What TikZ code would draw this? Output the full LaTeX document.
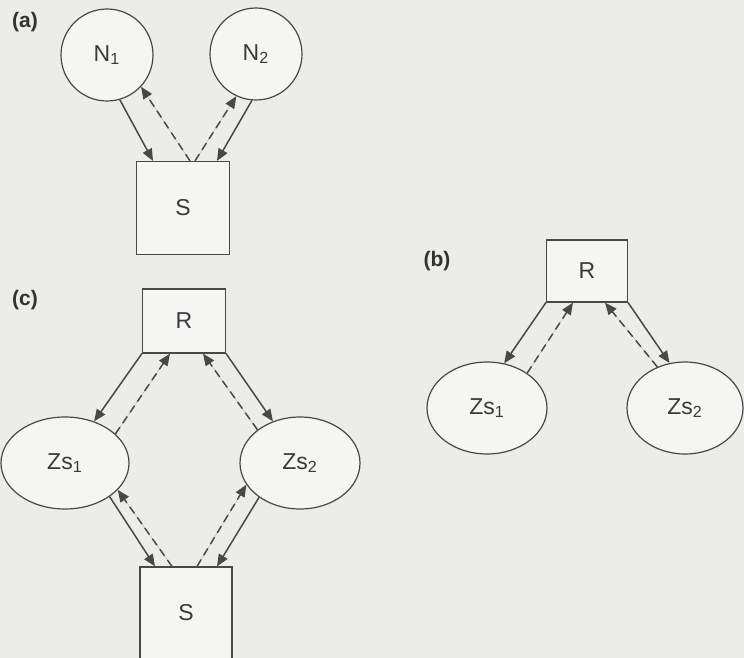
\documentclass[tikz,border=0pt]{standalone}
\usepackage{fontspec}
\setmainfont{Liberation Sans}
\usetikzlibrary{arrows.meta,shapes.geometric}
\definecolor{paper}{RGB}{236,236,233}
\definecolor{ink}{RGB}{72,72,72}
\tikzset{
  unit/.style={circle, draw=ink, fill=white!45!paper, line width=0.6pt, minimum size=46pt, inner sep=0pt, text=ink!80!black, font=\fontsize{11.5}{13}\selectfont},
  zone/.style={ellipse, draw=ink, fill=white!45!paper, line width=0.6pt, minimum width=60pt, minimum height=46pt, inner sep=0pt, text=ink!80!black, font=\fontsize{11.5}{13}\selectfont},
  site/.style={rectangle, draw=ink, fill=white!45!paper, line width=0.6pt, inner sep=0pt, text=ink!80!black, font=\fontsize{11.5}{13}\selectfont},
  req/.style={-{Triangle[length=6pt,width=5pt]}, draw=ink, fill=ink, line width=0.75pt},
  ack/.style={req, dash pattern=on 4pt off 2.5pt},
  panel/.style={font=\fontsize{10.5}{12}\selectfont\bfseries, text=ink!70!black}
}
\begin{document}
\begin{tikzpicture}[x=0.5pt, y=-0.5pt]
  \clip (0,0) rectangle (744,658);
  \fill[paper] (0,0) rectangle (744,658);

  % (a)
  \node[panel] (la) at (25,22) {(a)};
  \node[unit] (N1) at (107,55) {N\textsubscript{1}};
  \node[unit] (N2) at (256,54) {N\textsubscript{2}};
  \node[site, minimum size=46.5pt] (Sa) at (183,208) {S};

  \draw[req] (N1.-74) -- ([xshift=-15pt]Sa.north);
  \draw[ack] ([xshift=3.5pt]Sa.north) -- (N1.-43);
  \draw[ack] ([xshift=6pt]Sa.north) -- (N2.-115);
  \draw[req] (N2.-95) -- ([xshift=17pt]Sa.north);

  % (b)
  \node[panel] (lb) at (437,261) {(b)};
  \node[site, minimum width=40.5pt, minimum height=31pt] (Rb) at (587,271) {R};
  \node[zone] (Zb1) at (487,408) {Zs\textsubscript{1}};
  \node[zone, minimum width=58pt] (Zb2) at (685,408) {Zs\textsubscript{2}};

  \draw[req] (Rb.south west) -- (Zb1.69);
  \draw[ack] (Zb1.41) -- ([xshift=-7pt]Rb.south);
  \draw[ack] (Zb2.124) -- ([xshift=9pt]Rb.south);
  \draw[req] (Rb.south east) -- (Zb2.109);

  % (c)
  \node[panel] (lc) at (25,300) {(c)};
  \node[site, minimum width=41.5pt, minimum height=32pt] (Rc) at (184,321) {R};
  \node[zone, minimum width=64pt] (Zc1) at (65,463) {Zs\textsubscript{1}};
  \node[zone] (Zc2) at (300,463) {Zs\textsubscript{2}};
  \node[site, minimum size=46pt] (Sc) at (186,613) {S};

  \draw[req] (Rc.south west) -- (Zc1.55);
  \draw[ack] (Zc1.30) -- ([xshift=-7pt]Rc.south);
  \draw[ack] (Zc2.142) -- ([xshift=9.5pt]Rc.south);
  \draw[req] (Rc.south east) -- (Zc2.123);

  \draw[req] (Zc1.-37) -- ([xshift=-15.5pt]Sc.north);
  \draw[ack] ([xshift=-7pt]Sc.north) -- (Zc1.-27);
  \draw[ack] ([xshift=5.5pt]Sc.north) -- (Zc2.-158);
  \draw[req] (Zc2.-140) -- ([xshift=15.5pt]Sc.north);
\end{tikzpicture}
\end{document}
